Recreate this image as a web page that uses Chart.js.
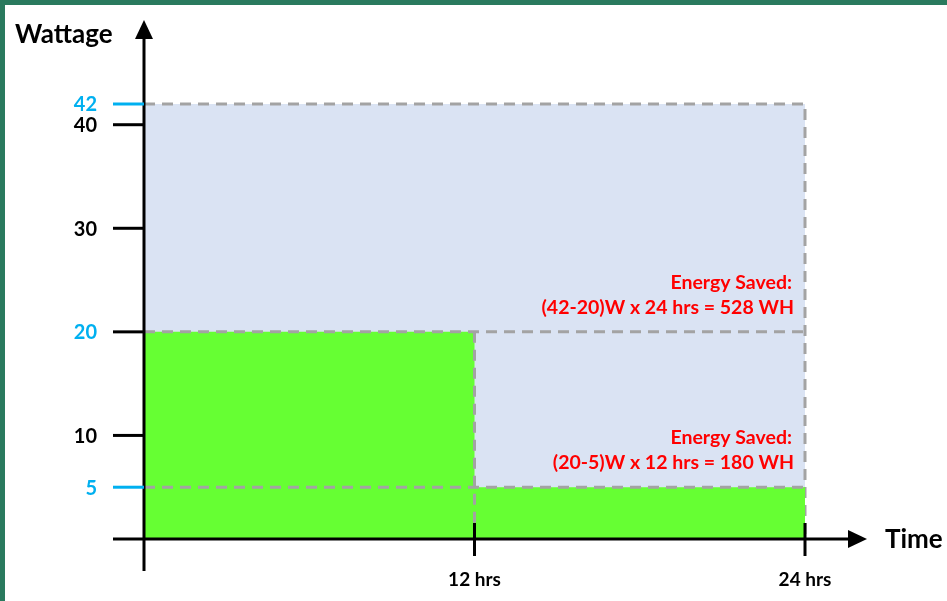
<!DOCTYPE html>
<html>
<head>
<meta charset="utf-8">
<title>Energy saved</title>
<script src="https://cdn.jsdelivr.net/npm/chart.js@4.4.1/dist/chart.umd.min.js"></script>
<style>
  html, body { margin: 0; padding: 0; background: #fff; }
  #wrap {
    width: 947px; height: 601px; box-sizing: border-box;
    border-top: 5px solid #2a7a5e; border-left: 5px solid #2a7a5e;
    background: #fff;
  }
  #chart { display: block; }
</style>
</head>
<body>
<div id="wrap"><canvas id="chart" width="942" height="596"></canvas></div>
<script>
// ---- data ----
const baselineWatts = 42;
const baselineHours = [0, 24];
const actualHours = [0, 12, 12, 24];
const actualWatts = [20, 20, 5, 5];
const yTicks = [5, 10, 20, 30, 40, 42];
const yTickLabels = ['5', '10', '20', '30', '40', '42'];
const xTicks = [12, 24];
const xTickLabels = ['12 hrs', '24 hrs'];
const savedNotes = [
  { lines: ['Energy Saved:', '(42-20)W x 24 hrs = 528 WH'], x: 24, y: 20 },
  { lines: ['Energy Saved:', '(20-5)W x 12 hrs = 180 WH'], x: 24, y: 5 }
];

const FONT = 'Lato, "Open Sans", sans-serif';
const BLUE = '#00b0f0';
const GREY = '#a3a3a3';
const DASH = [11, 7];

const pts = (xs, ys) => xs.map((x, i) => ({ x, y: ys[i] }));
const dashed = (data) => ({
  data, borderColor: GREY, borderWidth: 3, borderDash: DASH,
  pointRadius: 0, fill: false, clip: false, order: 1, tension: 0
});

/* ---------- axes, arrows and labels ---------- */
const axesPlugin = {
  id: 'axesPlugin',
  afterDatasetsDraw(chart){
    const { ctx, scales: { x, y } } = chart;
    const x0 = x.getPixelForValue(0), y0 = y.getPixelForValue(0);
    ctx.save();
    ctx.strokeStyle = '#000';
    ctx.fillStyle = '#000';
    ctx.lineWidth = 3;

    // y axis + arrow
    ctx.beginPath();
    ctx.moveTo(x0, y0 + 32);
    ctx.lineTo(x0, 30);
    ctx.stroke();
    ctx.beginPath();
    ctx.moveTo(x0, 15); ctx.lineTo(x0 - 9, 34); ctx.lineTo(x0 + 9, 34); ctx.closePath();
    ctx.fill();

    // x axis + arrow
    ctx.beginPath();
    ctx.moveTo(x0 - 31, y0);
    ctx.lineTo(850, y0);
    ctx.stroke();
    ctx.beginPath();
    ctx.moveTo(862, y0); ctx.lineTo(843, y0 - 9); ctx.lineTo(843, y0 + 9); ctx.closePath();
    ctx.fill();

    // y ticks
    ctx.font = `bold 20px ${FONT}`;
    ctx.textAlign = 'right';
    ctx.textBaseline = 'middle';
    yTicks.forEach((v, i) => {
      const py = y.getPixelForValue(v);
      ctx.strokeStyle = (v === 42 || v === 5) ? BLUE : '#000';
      ctx.beginPath(); ctx.moveTo(x0 - 31, py); ctx.lineTo(x0, py); ctx.stroke();
      ctx.fillStyle = (v === 42 || v === 20 || v === 5) ? BLUE : '#000';
      ctx.fillText(yTickLabels[i], x0 - 47, py + 1);
    });

    // x ticks
    ctx.strokeStyle = '#000';
    ctx.fillStyle = '#000';
    ctx.font = `bold 19px ${FONT}`;
    ctx.textAlign = 'center';
    xTicks.forEach((v, i) => {
      const px = x.getPixelForValue(v);
      ctx.beginPath(); ctx.moveTo(px, y0 - 16); ctx.lineTo(px, y0 + 17); ctx.stroke();
      ctx.fillText(xTickLabels[i], px, y0 + 41);
    });

    // axis titles
    ctx.font = `bold 26px ${FONT}`;
    ctx.textAlign = 'left';
    ctx.fillText('Wattage', 10, 30);
    ctx.fillText('Time', 880, y0 + 1);

    // notes
    ctx.fillStyle = '#ff0000';
    ctx.font = `bold 19.5px ${FONT}`;
    ctx.textAlign = 'right';
    savedNotes.forEach(n => {
      const px = x.getPixelForValue(n.x) - 13;
      const py = y.getPixelForValue(n.y);
      ctx.fillText(n.lines[0], px, py - 49);
      ctx.fillText(n.lines[1], px + 2, py - 24);
    });
    ctx.restore();
  }
};

new Chart(document.getElementById('chart'), {
  type: 'line',
  data: {
    datasets: [
      {
        data: [...pts(baselineHours, [baselineWatts, baselineWatts]), { x: 24, y: 0 }],
        borderColor: GREY, borderWidth: 3, borderDash: DASH,
        backgroundColor: '#dae3f3', fill: 'origin',
        pointRadius: 0, clip: false, order: 3, tension: 0
      },
      {
        data: pts(actualHours, actualWatts),
        borderWidth: 0, borderColor: 'rgba(0,0,0,0)',
        backgroundColor: '#66ff33', fill: 'origin',
        pointRadius: 0, clip: false, order: 2, tension: 0
      },
      dashed(pts(baselineHours, [20, 20])),
      dashed(pts(baselineHours, [5, 5])),
      dashed(pts([12, 12], [20, 0]))
    ]
  },
  options: {
    responsive: false,
    animation: false,
    layout: { padding: { left: 139, top: 99, right: 142, bottom: 62 } },
    scales: {
      x: { type: 'linear', min: 0, max: 24, display: false },
      y: { min: 0, max: 42, display: false }
    },
    plugins: { legend: { display: false }, tooltip: { enabled: false } }
  },
  plugins: [axesPlugin]
});
</script>
</body>
</html>
